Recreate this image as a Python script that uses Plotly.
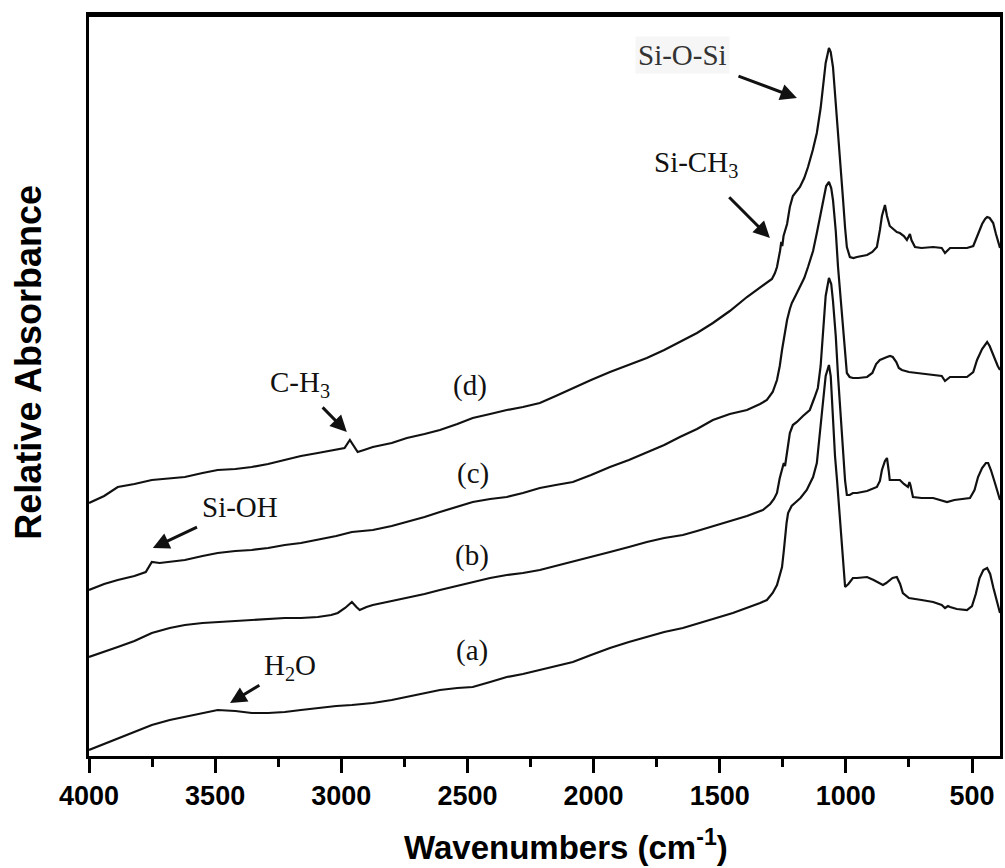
import plotly.graph_objects as go

# ---------------- data ----------------
wn_d = [4000, 3940, 3886, 3820, 3751, 3680, 3620, 3550, 3490, 3420, 3355, 3290, 3224, 3160, 3093, 3030,
        2987, 2966, 2950, 2935, 2910, 2875, 2800, 2740, 2670, 2609, 2540, 2479, 2410, 2344, 2280, 2213,
        2150, 2082, 2010, 1935, 1860, 1789, 1720, 1658, 1590, 1527, 1460, 1392, 1340, 1313, 1293, 1281,
        1273, 1261, 1256, 1252, 1247, 1233, 1222, 1210, 1194, 1182, 1165, 1150, 1131, 1115, 1100, 1091,
        1080, 1067, 1060, 1051, 1040, 1031, 1020, 1011, 1003, 996, 984, 970, 956, 916, 895, 877,
        865, 857, 845, 837, 826, 814, 798, 786, 770, 758, 750, 746, 740, 726, 700, 654,
        620, 607, 599, 587, 560, 520, 495, 476, 460, 448, 440, 430, 416, 405, 395, 389]
abs_d = [2.53, 2.60, 2.69, 2.72, 2.76, 2.78, 2.79, 2.83, 2.86, 2.87, 2.89, 2.92, 2.96, 3.00, 3.03, 3.06,
         3.08, 3.16, 3.10, 3.04, 3.06, 3.09, 3.13, 3.18, 3.22, 3.26, 3.32, 3.38, 3.42, 3.46, 3.49, 3.53,
         3.60, 3.68, 3.76, 3.84, 3.91, 3.98, 4.06, 4.14, 4.23, 4.33, 4.45, 4.59, 4.68, 4.73, 4.77, 4.83,
         4.89, 5.05, 5.14, 5.10, 5.20, 5.32, 5.49, 5.60, 5.65, 5.69, 5.78, 5.89, 6.06, 6.23, 6.48, 6.68,
         6.93, 7.08, 7.04, 6.89, 6.55, 6.23, 5.85, 5.56, 5.28, 5.09, 4.99, 4.98, 4.99, 5.01, 5.04, 5.09,
         5.26, 5.40, 5.51, 5.40, 5.30, 5.27, 5.24, 5.23, 5.20, 5.16, 5.20, 5.22, 5.16, 5.09, 5.08, 5.09,
         5.08, 5.03, 5.05, 5.08, 5.08, 5.08, 5.10, 5.23, 5.32, 5.37, 5.39, 5.38, 5.33, 5.22, 5.12, 5.08]

wn_c = [4000, 3940, 3886, 3820, 3775, 3751, 3720, 3680, 3620, 3550, 3490, 3420, 3355, 3290, 3224, 3160,
        3093, 3020, 2958, 2875, 2800, 2740, 2670, 2609, 2540, 2479, 2410, 2344, 2280, 2213, 2150, 2082,
        2010, 1935, 1860, 1789, 1720, 1658, 1590, 1527, 1460, 1392, 1340, 1313, 1290, 1273, 1262, 1253,
        1243, 1233, 1222, 1214, 1200, 1182, 1165, 1150, 1130, 1115, 1100, 1091, 1078, 1067, 1058, 1051,
        1040, 1031, 1020, 1011, 1003, 996, 985, 972, 950, 916, 895, 880, 865, 850, 837, 825,
        814, 800, 790, 778, 750, 718, 654, 620, 607, 587, 550, 520, 495, 480, 460, 448,
        440, 430, 418, 409, 398, 389]
abs_c = [1.66, 1.72, 1.76, 1.80, 1.84, 1.94, 1.93, 1.94, 1.96, 2.00, 2.03, 2.05, 2.06, 2.08, 2.11, 2.13,
         2.16, 2.20, 2.24, 2.26, 2.30, 2.34, 2.39, 2.44, 2.49, 2.54, 2.57, 2.59, 2.63, 2.68, 2.71, 2.74,
         2.81, 2.89, 2.96, 3.04, 3.11, 3.19, 3.27, 3.36, 3.42, 3.46, 3.52, 3.56, 3.64, 3.76, 3.90, 4.06,
         4.22, 4.36, 4.47, 4.53, 4.60, 4.69, 4.78, 4.89, 5.05, 5.23, 5.42, 5.56, 5.70, 5.74, 5.68, 5.56,
         5.25, 4.89, 4.55, 4.23, 3.98, 3.83, 3.79, 3.78, 3.78, 3.79, 3.83, 3.92, 3.96, 3.98, 3.99, 4.00,
         3.99, 3.94, 3.88, 3.86, 3.84, 3.83, 3.81, 3.80, 3.75, 3.79, 3.79, 3.79, 3.84, 3.96, 4.07, 4.12,
         4.14, 4.10, 4.02, 3.96, 3.90, 3.86]

wn_b = [4000, 3940, 3886, 3820, 3751, 3680, 3620, 3550, 3490, 3420, 3355, 3290, 3224, 3160, 3093, 3040,
        3014, 2985, 2958, 2940, 2927, 2900, 2875, 2800, 2740, 2670, 2609, 2540, 2479, 2410, 2344, 2280,
        2213, 2150, 2082, 2010, 1935, 1860, 1789, 1720, 1646, 1590, 1527, 1448, 1392, 1329, 1300, 1285,
        1273, 1262, 1253, 1246, 1241, 1233, 1222, 1210, 1194, 1170, 1143, 1125, 1111, 1100, 1091, 1080,
        1067, 1058, 1051, 1040, 1031, 1020, 1011, 1003, 996, 985, 972, 956, 916, 890, 877, 865,
        857, 845, 837, 830, 826, 800, 786, 770, 754, 748, 744, 734, 700, 654, 620, 599,
        570, 508, 490, 476, 460, 445, 436, 425, 409, 398, 389]
abs_b = [0.99, 1.04, 1.09, 1.15, 1.23, 1.28, 1.31, 1.33, 1.34, 1.35, 1.36, 1.37, 1.38, 1.38, 1.39, 1.41,
         1.43, 1.48, 1.54, 1.49, 1.46, 1.49, 1.51, 1.55, 1.58, 1.62, 1.66, 1.70, 1.74, 1.78, 1.81, 1.83,
         1.86, 1.90, 1.94, 1.99, 2.04, 2.09, 2.14, 2.18, 2.21, 2.25, 2.30, 2.36, 2.40, 2.46, 2.52, 2.57,
         2.63, 2.78, 2.86, 2.93, 2.90, 3.05, 3.23, 3.31, 3.34, 3.40, 3.46, 3.58, 3.68, 3.90, 4.20, 4.60,
         4.78, 4.72, 4.55, 4.20, 3.80, 3.35, 3.00, 2.75, 2.61, 2.61, 2.63, 2.63, 2.65, 2.68, 2.69, 2.75,
         2.86, 2.95, 2.98, 2.85, 2.76, 2.76, 2.76, 2.72, 2.69, 2.74, 2.71, 2.59, 2.58, 2.58, 2.56, 2.54,
         2.56, 2.58, 2.66, 2.79, 2.88, 2.93, 2.93, 2.86, 2.73, 2.63, 2.56]

wn_a = [4000, 3940, 3886, 3820, 3751, 3680, 3620, 3550, 3490, 3420, 3355, 3290, 3224, 3160, 3093, 3020,
        2958, 2875, 2800, 2740, 2670, 2609, 2540, 2479, 2410, 2344, 2280, 2213, 2150, 2082, 2010, 1935,
        1860, 1789, 1720, 1646, 1590, 1527, 1448, 1392, 1340, 1313, 1290, 1273, 1262, 1253, 1246, 1241,
        1235, 1229, 1215, 1202, 1180, 1155, 1130, 1115, 1105, 1095, 1080, 1067, 1060, 1051, 1043, 1035,
        1020, 1010, 1003, 990, 972, 956, 916, 890, 865, 853, 840, 815, 798, 785, 774, 750,
        700, 654, 620, 607, 595, 587, 560, 520, 500, 485, 470, 455, 440, 428, 415, 400, 389]
abs_a = [0.06, 0.12, 0.18, 0.24, 0.31, 0.36, 0.39, 0.43, 0.46, 0.45, 0.43, 0.43, 0.44, 0.46, 0.48, 0.50,
         0.51, 0.53, 0.56, 0.59, 0.63, 0.66, 0.68, 0.69, 0.74, 0.79, 0.82, 0.86, 0.90, 0.94, 1.01, 1.08,
         1.14, 1.19, 1.24, 1.28, 1.32, 1.37, 1.43, 1.48, 1.53, 1.56, 1.63, 1.71, 1.80, 1.89, 2.05, 2.19,
         2.33, 2.43, 2.50, 2.53, 2.58, 2.66, 2.79, 2.93, 3.15, 3.43, 3.80, 3.91, 3.80, 3.35, 3.00, 2.76,
         2.25, 1.90, 1.69, 1.72, 1.78, 1.78, 1.79, 1.76, 1.73, 1.71, 1.73, 1.78, 1.79, 1.72, 1.63, 1.58,
         1.56, 1.54, 1.51, 1.48, 1.50, 1.49, 1.47, 1.46, 1.50, 1.62, 1.78, 1.86, 1.88, 1.82, 1.68, 1.52, 1.43]

x_ticks = [4000, 3500, 3000, 2500, 2000, 1500, 1000, 500]
x_tick_labels = ["4000", "3500", "3000", "2500", "2000", "1500", "1000", "500"]

sample_labels = ["(a)", "(b)", "(c)", "(d)"]
sample_label_pos = [(2482, 1.06), (2482, 2.01), (2478, 2.83), (2490, 3.71)]

# band annotations: text, text centre, arrow head, extra gap at the arrow start (px)
bands = [
    ("Si-O-Si", (1649, 7.01), (1194, 6.58), 10),
    ("Si-CH<sub>3</sub>", (1594, 5.92), (1301, 5.18), 18),
    ("C-H<sub>3</sub>", (3165, 3.72), (2978, 3.24), 4),
    ("Si-OH", (3402, 2.49), (3747, 2.08), 4),
    ("H<sub>2</sub>O", (3205, 0.89), (3441, 0.53), 2),
]

# ---------------- figure ----------------
fig = go.Figure()
for wn, ab in [(wn_a, abs_a), (wn_b, abs_b), (wn_c, abs_c), (wn_d, abs_d)]:
    fig.add_trace(go.Scatter(x=wn, y=ab, mode="lines",
                             line=dict(color="#111111", width=2.2),
                             showlegend=False, hoverinfo="skip"))

serif = "Liberation Serif, Times New Roman, serif"
sans = "Liberation Sans, Arial, sans-serif"

annotations = []
for lab, (x, y) in zip(sample_labels, sample_label_pos):
    annotations.append(dict(x=x, y=y, xref="x", yref="y", text=lab, showarrow=False,
                            font=dict(family=serif, size=29, color="#111111")))
for text, (tx, ty), (hx, hy), gap in bands:
    annotations.append(dict(x=hx, y=hy, xref="x", yref="y", ax=tx, ay=ty, axref="x", ayref="y",
                            text=text, showarrow=True, arrowhead=2, arrowsize=1.1,
                            arrowwidth=3, arrowcolor="#111111", standoff=0, startstandoff=gap,
                            font=dict(family=serif, size=29,
                                      color="#333333" if text == "Si-O-Si" else "#111111"),
                            bgcolor="#f6f6f6" if text == "Si-O-Si" else "rgba(0,0,0,0)",
                            borderpad=2))

# axis titles (placed as paper annotations to match the reference offsets)
annotations.append(dict(x=0.524, y=-0.12, xref="paper", yref="paper",
                        text="Wavenumbers (cm<sup>-1</sup>)", showarrow=False,
                        xanchor="center", yanchor="middle",
                        font=dict(family=sans, size=33, color="black", weight="bold")))
annotations.append(dict(x=-0.066, y=0.532, xref="paper", yref="paper",
                        text="Relative Absorbance", showarrow=False, textangle=-90,
                        xanchor="center", yanchor="middle",
                        font=dict(family=sans, size=36, color="black", weight="bold")))

fig.update_layout(
    width=1005, height=868,
    margin=dict(l=89, r=5, t=15, b=112),
    plot_bgcolor="white", paper_bgcolor="white",
    annotations=annotations,
    xaxis=dict(
        range=[4000, 389], tickvals=x_ticks, ticktext=x_tick_labels,
        ticks="outside", ticklen=14, tickwidth=2.5, tickcolor="black",
        minor=dict(ticks="outside", ticklen=8, tickwidth=2.5, tickcolor="black", dtick=250, tick0=0),
        showline=True, linewidth=2.5, linecolor="black", mirror=True,
        showgrid=False, zeroline=False, automargin=False,
        tickfont=dict(family=sans, size=27, color="black", weight="bold"),
    ),
    yaxis=dict(
        range=[0, 7.41], showticklabels=False, ticks="",
        showline=True, linewidth=2.5, linecolor="black", mirror=True,
        showgrid=False, zeroline=False, automargin=False,
    ),
    shapes=[dict(type="line", xref="paper", yref="paper", x0=0, x1=1, y0=1, y1=1,
                 line=dict(color="black", width=4))],
)

# remove the browser's default page margin so the 1005x868 figure fills the window exactly
fig.write_html("out.html",
               config={"displayModeBar": False},
               post_script="document.body.style.margin='0';document.body.style.overflow='hidden';")
